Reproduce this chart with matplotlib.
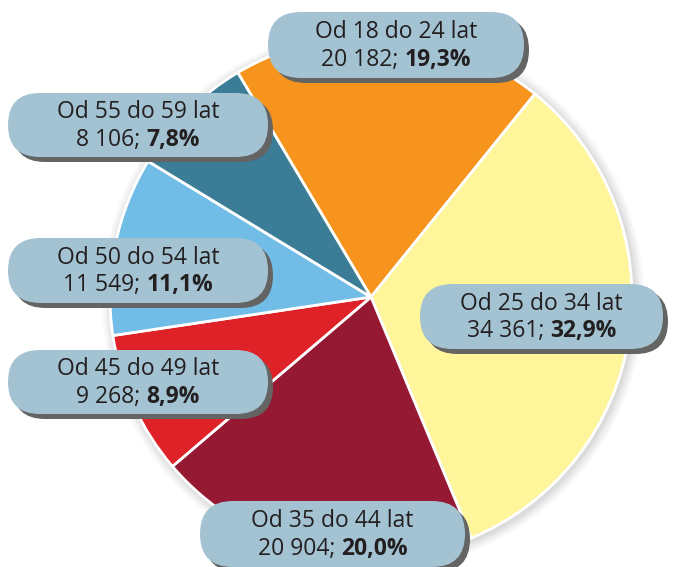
import matplotlib
matplotlib.use('Agg')
import matplotlib.pyplot as plt
from matplotlib.patches import FancyBboxPatch, Circle

plt.rcParams['font.family'] = ['Open Sans', 'DejaVu Sans']

groups = ['Od 18 do 24 lat', 'Od 25 do 34 lat', 'Od 35 do 44 lat',
          'Od 45 do 49 lat', 'Od 50 do 54 lat', 'Od 55 do 59 lat']
counts = [20182, 34361, 20904, 9268, 11549, 8106]
counts_txt = ['20 182', '34 361', '20 904', '9 268', '11 549', '8 106']
shares_txt = ['19,3%', '32,9%', '20,0%', '8,9%', '11,1%', '7,8%']
colors = ['#F7941D', '#FFF59A', '#951933', '#DF2228', '#72BDE8', '#3B7C96']

# label boxes in pixel coords: left, top, right, bottom
boxes = [(268, 12, 524, 78), (420, 284, 663, 349), (200, 501, 465, 567),
         (8, 350, 268, 414), (8, 238, 268, 303), (8, 93, 268, 157)]

W, H = 673, 567
fig = plt.figure(figsize=(W / 100, H / 100), dpi=100)
ax = fig.add_axes([0, 0, 1, 1])
ax.set_xlim(0, W)
ax.set_ylim(0, H)
ax.set_aspect('equal')
ax.axis('off')

cx, cy, r = 371, H - 297, 261

# soft shadow around the pie
for i, a in enumerate([0.03, 0.03, 0.04, 0.05, 0.06]):
    ax.add_patch(Circle((cx + 2, cy - 2), r + 10 - 2 * i, color='#555555', alpha=a, lw=0))

ax.pie(counts, colors=colors, startangle=120.7, counterclock=False,
       center=(cx, cy), radius=r, frame=True,
       wedgeprops=dict(edgecolor='white', linewidth=2))
ax.set_xlim(0, W)
ax.set_ylim(0, H)
ax.axis('off')

renderer = fig.canvas.get_renderer()
txt_color = '#231F20'
fs = 16.5

for g, ct, sh, (l, t, rr, b) in zip(groups, counts_txt, shares_txt, boxes):
    h = b - t
    pad = h / 2
    y0 = H - b
    for dx, dy, fc, z in [(5, -5, '#646464', 5), (0, 0, '#A3C3D3', 6)]:
        ax.add_patch(FancyBboxPatch((l + pad + dx, y0 + pad + dy), (rr - l) - 2 * pad, 0,
                                    boxstyle='round,pad=%f' % pad, fc=fc, ec='none',
                                    zorder=z, mutation_aspect=1))
    xc = (l + rr) / 2
    ym = H - (t + b) / 2
    ax.text(xc, ym + 13, g, ha='center', va='center', fontsize=fs, color=txt_color, zorder=7)
    t1 = ax.text(0, ym - 15, ct + '; ', ha='left', va='center', fontsize=fs,
                 color=txt_color, zorder=7)
    t2 = ax.text(0, ym - 15, sh, ha='left', va='center', fontsize=fs,
                 fontweight='bold', color=txt_color, zorder=7)
    w1 = t1.get_window_extent(renderer).width
    w2 = t2.get_window_extent(renderer).width
    start = xc - (w1 + w2) / 2
    t1.set_x(start)
    t2.set_x(start + w1)

fig.savefig('out.png', dpi=100)
